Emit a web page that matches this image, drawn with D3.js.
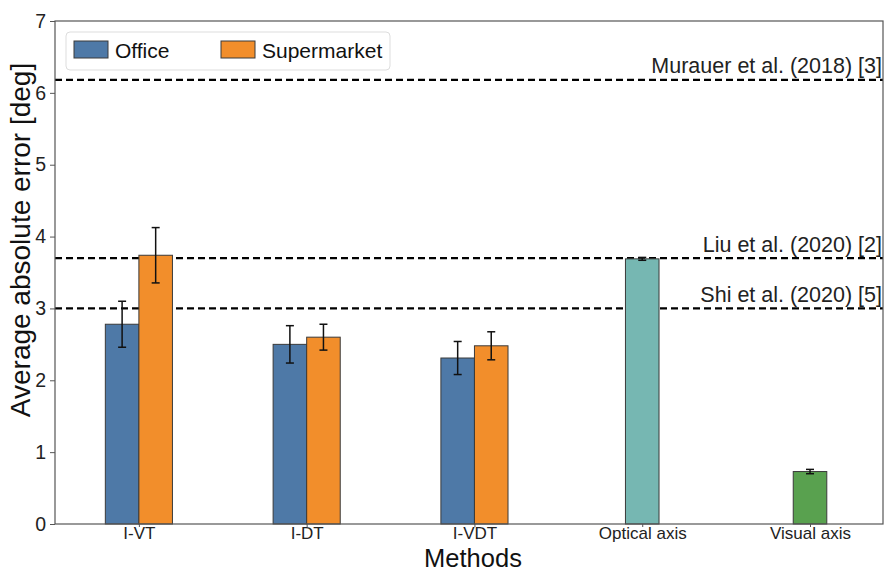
<!DOCTYPE html>
<html><head><meta charset="utf-8">
<script src="https://cdn.jsdelivr.net/npm/d3@7"></script>
<style>body{margin:0;background:#fff}svg{display:block;font-family:"Liberation Sans",Arial,sans-serif}</style>
</head><body><svg id="c" width="885" height="572"></svg>
<script>
const categories = ["I-VT","I-DT","I-VDT","Optical axis","Visual axis"];
const officeVals = [2.78, 2.50, 2.31];
const officeErr = [0.32, 0.26, 0.23];
const superVals = [3.74, 2.60, 2.48];
const superErr = [0.385, 0.18, 0.195];
const singleVals = [{cat:"Optical axis", v:3.69, e:0.02, color:"#76b7b2"},{cat:"Visual axis", v:0.73, e:0.03, color:"#59a14f"}];
const refLines = [{label:"Murauer et al. (2018) [3]", v:6.18},{label:"Liu et al. (2020) [2]", v:3.70},{label:"Shi et al. (2020) [5]", v:3.00}];
const yTicks = [0,1,2,3,4,5,6,7];
const colors = {office:"#4e79a7", super:"#f28e2b"};

const svg = d3.select("#c");
const L=55, R=883, T=21, B=524;
const x = d3.scaleLinear().domain([-0.5, 4.435]).range([L, R]);
const y = d3.scaleLinear().domain([0, 7]).range([B, T]);
const bw = 0.2;
const FONT = "Liberation Sans, Arial, sans-serif";

// reference lines
refLines.forEach(r=>{
  svg.append("line").attr("x1",L).attr("x2",R).attr("y1",y(r.v)).attr("y2",y(r.v))
    .attr("stroke","#000").attr("stroke-width",2.2).attr("stroke-dasharray","7,4");
  svg.append("text").attr("x",R-1).attr("y",y(r.v)-6.5).attr("text-anchor","end")
    .attr("font-size",21.5).attr("fill","#222").text(r.label);
});

function bar(cx, v, e, color){
  svg.append("rect").attr("x",x(cx-bw/2)).attr("width",x(bw)-x(0)).attr("y",y(v)).attr("height",y(0)-y(v))
    .attr("fill",color).attr("stroke","#3a3a3a").attr("stroke-width",1);
  const ex = x(cx);
  svg.append("line").attr("x1",ex).attr("x2",ex).attr("y1",y(v+e)).attr("y2",y(v-e)).attr("stroke","#111").attr("stroke-width",1.5);
  [v+e, v-e].forEach(t=>svg.append("line").attr("x1",ex-4).attr("x2",ex+4).attr("y1",y(t)).attr("y2",y(t)).attr("stroke","#111").attr("stroke-width",1.5));
}
officeVals.forEach((v,i)=>bar(i-bw/2, v, officeErr[i], colors.office));
superVals.forEach((v,i)=>bar(i+bw/2, v, superErr[i], colors.super));
singleVals.forEach(d=>bar(categories.indexOf(d.cat), d.v, d.e, d.color));

// frame
svg.append("rect").attr("x",L).attr("y",T).attr("width",R-L).attr("height",B-T).attr("fill","none").attr("stroke","#555").attr("stroke-width",1.2);

// axes
const ya = svg.append("g").attr("transform",`translate(${L},0)`).call(d3.axisLeft(y).tickValues(yTicks).tickSize(5).tickPadding(4).tickFormat(d3.format("d")));
ya.select(".domain").remove();
ya.selectAll("text").attr("font-size",19.5).attr("fill","#222").attr("font-family",FONT);
ya.selectAll("line").attr("stroke","#555");
const xa = svg.append("g").attr("transform",`translate(0,${B})`).call(d3.axisBottom(x).tickValues(categories.map((c,i)=>i)).tickSize(3).tickPadding(0).tickFormat(i=>categories[i]));
xa.select(".domain").remove();
xa.selectAll("text").attr("font-size",17).attr("fill","#222").attr("font-family",FONT);
xa.selectAll("line").attr("stroke","#555");

svg.append("text").attr("x",473).attr("y",566.5).attr("text-anchor","middle").attr("font-size",25.5).attr("fill","#111").text("Methods");
svg.append("text").attr("transform",`translate(30,240) rotate(-90)`).attr("text-anchor","middle").attr("font-size",28).attr("fill","#111").text("Average absolute error [deg]");

// legend
const lg = svg.append("g");
lg.append("rect").attr("x",66).attr("y",32).attr("width",324).attr("height",38).attr("rx",4).attr("fill","#fff").attr("fill-opacity",0.85).attr("stroke","#ddd");
[{l:"Office",c:colors.office,x:74},{l:"Supermarket",c:colors.super,x:221}].forEach(d=>{
  lg.append("rect").attr("x",d.x).attr("y",41).attr("width",34).attr("height",17).attr("fill",d.c).attr("stroke","#3a3a3a").attr("stroke-width",1);
  lg.append("text").attr("x",d.x+41).attr("y",58).attr("font-size",21).attr("fill","#111").text(d.l);
});
</script></body></html>
